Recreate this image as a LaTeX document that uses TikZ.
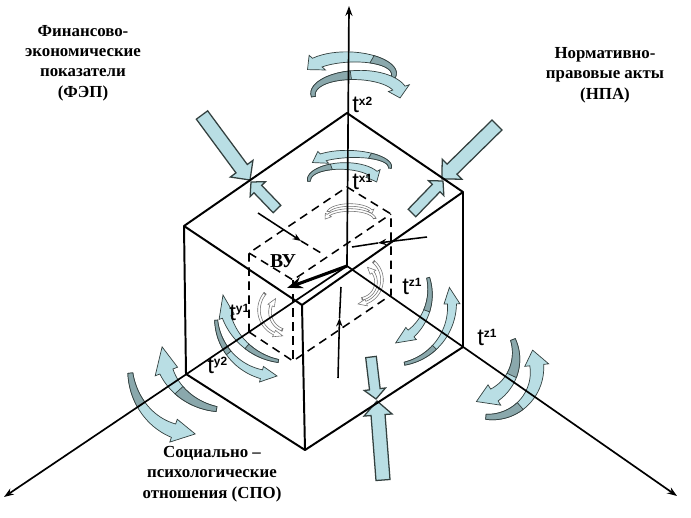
\documentclass[tikz,border=0pt]{standalone}
\usepackage{fontspec}
\setmainfont{Liberation Serif}
\setsansfont{Liberation Sans}
\usepackage{tikz}
\usetikzlibrary{arrows.meta,calc}
\definecolor{ribbonL}{HTML}{B9DEE4}
\definecolor{ribbonD}{HTML}{8AA8AC}
\definecolor{outln}{HTML}{33403F}
\newcommand{\rt}{2}
\newcommand{\rw}{5}
\newcommand{\rh}{9}
\newcommand{\tlab}[1]{t\raisebox{5.4pt}{\fontsize{8.5}{8.5}\selectfont\bfseries #1}}
\newcommand{\ribbon}[7]{%
  \def\wf{(\rt+(\rw-\rt)*(\x-(#4))/((#6)-(#4)))}%
  \pgfmathsetmacro\rxh{#2+\rh}\pgfmathsetmacro\ryh{#3+\rh}%
  \pgfmathsetmacro\rxl{#2-\rh}\pgfmathsetmacro\ryl{#3-\rh}%
  \begin{scope}[shift={(#1)}]
    \filldraw[rlight] plot[domain=#4:#6, samples=24] ({(#2+\wf)*cos(\x)}, {(#3+\wf)*sin(\x)})
      -- (xyz polar cs:angle=#6,x radius=\rxh,y radius=\ryh)
      -- (xyz polar cs:angle=#7,x radius=#2,y radius=#3)
      -- (xyz polar cs:angle=#6,x radius=\rxl,y radius=\ryl)
      -- plot[domain=#6:#4, samples=24] ({(#2-\wf)*cos(\x)}, {(#3-\wf)*sin(\x)}) -- cycle;
    \filldraw[rdark] plot[domain=#4:#5, samples=12] ({(#2+\wf)*cos(\x)}, {(#3+\wf)*sin(\x)})
      -- plot[domain=#5:#4, samples=12] ({(#2-\wf)*cos(\x)}, {(#3-\wf)*sin(\x)}) -- cycle;
  \end{scope}}
\newcommand{\blockarr}[4]{%
  \coordinate (hb) at ($(#2)!#4!(#1)$);
  \filldraw[blockarrow] ($(#1)!#3!90:(#2)$) -- ($(hb)!#3!90:(#2)$) -- ($(hb)!2*#3!90:(#2)$) -- (#2)
    -- ($(hb)!2*#3!-90:(#2)$) -- ($(hb)!#3!-90:(#2)$) -- ($(#1)!#3!-90:(#2)$) -- cycle;}
\tikzset{
  cubeedge/.style={line width=1.4pt, line join=round},
  hiddenedge/.style={line width=1.1pt, dash pattern=on 6pt off 4pt},
  axisline/.style={line width=1.2pt, -{Stealth[length=7pt, width=5pt]}},
  rlight/.style={fill=ribbonL, draw=outln, line width=0.5pt},
  rdark/.style={fill=ribbonD, draw=outln, line width=0.5pt},
  blockarrow/.style={fill=ribbonL, draw=outln, line width=0.9pt, line join=miter},
  pointer/.style={line width=1.1pt, -{Stealth[length=6pt, width=4.5pt]}},
  vuarrow/.style={line width=2.2pt, -{Stealth[length=11pt, width=8pt]}},
  factor/.style={font=\fontsize{12}{14.5}\selectfont\bfseries, align=center},
  tname/.style={font=\fontsize{17}{17}\selectfont\sffamily, anchor=base west, inner sep=0pt},
}
\begin{document}
\begin{tikzpicture}[x=0.025cm, y=-0.025cm]
  \useasboundingbox (0,0) rectangle (691,518);
  \coordinate (O) at (347,266);
  \coordinate (TB) at (347,113); \coordinate (TL) at (184,226);
  \coordinate (TR) at (463,192); \coordinate (TF) at (302,305);
  \coordinate (BL) at (186,374); \coordinate (BF) at (305,450); \coordinate (BR) at (463,347);
  \coordinate (iTB) at (347,187); \coordinate (iTL) at (249,253);
  \coordinate (iTR) at (391,214); \coordinate (iTF) at (293,280);
  \coordinate (iBL) at (249,332); \coordinate (iBF) at (293,361); \coordinate (iBR) at (391,295);
  \coordinate (xtip) at (349,6); \coordinate (ytip) at (4,497); \coordinate (ztip) at (677,496);

  \begin{scope}
    \renewcommand{\rt}{2}\renewcommand{\rw}{6.5}\renewcommand{\rh}{11}
    \ribbon{350,74}{44}{17}{15}{-60}{-138}{-165}
    \ribbon{357,94}{44}{19}{172}{262}{342}{372}
  \end{scope}
  \begin{scope}
    \renewcommand{\rt}{1.5}\renewcommand{\rw}{4.5}\renewcommand{\rh}{8}
    \ribbon{350,167}{40}{13}{5}{-60}{-132}{-160}
    \ribbon{343,180}{34}{14}{175}{250}{332}{368}
    \ribbon{276,316}{60}{60}{176}{142}{104}{89}
    \ribbon{290,295}{67}{67}{100}{130}{161}{180}
    \ribbon{375,292}{55}{55}{-15}{20}{49}{68}
    \ribbon{392,305}{60}{60}{78}{45}{-1}{-17}
  \end{scope}
  \begin{scope}
    \renewcommand{\rt}{2.5}\renewcommand{\rw}{7}\renewcommand{\rh}{12}
    \ribbon{193,366}{63}{68}{174}{145}{108}{88}
    \ribbon{228,350}{66}{60}{100}{138}{159}{183}
    \ribbon{470,356}{46}{46}{-21}{25}{58}{82}
    \ribbon{490,370}{47}{47}{95}{50}{-6}{-25}
  \end{scope}
  \begin{scope}[rlight/.style={fill=white, draw=black!55, line width=0.4pt}, rdark/.style={rlight}]
    \renewcommand{\rt}{1.3}\renewcommand{\rw}{1.3}\renewcommand{\rh}{3.5}
    \ribbon{350,213}{22}{8}{190}{192}{340}{362}
    \ribbon{350,220}{25}{10}{-8}{-10}{-150}{-175}
    \ribbon{285,310}{26}{26}{220}{218}{115}{95}
    \ribbon{289,312}{19}{19}{110}{112}{200}{225}
    \ribbon{358,280}{24}{24}{-50}{-48}{70}{90}
    \ribbon{359,282}{17}{17}{80}{78}{-35}{-60}
  \end{scope}

  \blockarr{202,115}{250,180}{5pt}{10pt}
  \blockarr{277,209}{251,182}{3.8pt}{7pt}
  \blockarr{497,125}{442,179}{5pt}{10pt}
  \blockarr{412,213}{443,181}{3.8pt}{7pt}
  \blockarr{383,480}{377,401}{5pt}{10pt}
  \blockarr{371,357}{376,399}{3.8pt}{7pt}

  \draw[hiddenedge] (iBL) -- (iTL) -- (iTB) -- (iTR) -- (iBR) -- (iBF) -- (iBL);
  \draw[hiddenedge] (iTL) -- (iTF) -- (iTR);
  \draw[hiddenedge] (iTF) -- (iBF);
  \draw[cubeedge] (BL) -- (TL) -- (TB) -- (TR) -- (BR) -- (BF) -- cycle;
  \draw[cubeedge] (TL) -- (TF) -- (TR);
  \draw[cubeedge] (TF) -- (BF);
  \draw[axisline] (O) -- (xtip);
  \draw[axisline] (O) -- (ytip);
  \draw[axisline] (O) -- (ztip);

  \coordinate (pa1) at (258,213); \coordinate (pa2) at (301,241); \coordinate (pa3) at (321,253);
  \coordinate (pb1) at (427,237); \coordinate (pb2) at (378,243); \coordinate (pb3) at (352,247);
  \coordinate (pc1) at (338,378); \coordinate (pc2) at (339.5,318); \coordinate (pc3) at (341,287);
  \coordinate (vuend) at (287,288);
  \draw[pointer] (pa1) -- (pa2); \draw[hiddenedge] (pa2) -- (pa3);
  \draw[pointer] (pb1) -- (pb2); \draw[line width=1.1pt] (pb2) -- (pb3);
  \draw[pointer] (pc1) -- (pc2); \draw[line width=1.1pt] (pc2) -- (pc3);
  \draw[vuarrow] (O) -- (vuend);

  \node[factor] (fep) at (83,63) {Финансово-\\экономические\\показатели\\(ФЭП)};
  \node[factor] (npa) at (605,75) {Нормативно-\\правовые акты\\(НПА)};
  \node[factor] (spo) at (212,474) {Социально –\\психологические\\отношения (СПО)};
  \node[font=\fontsize{14}{14}\selectfont\bfseries] (vu) at (283,261) {ВУ};
  \node[tname] (tx2) at (352,113) {\tlab{x2}};
  \node[tname] (tx1) at (352,190) {\tlab{x1}};
  \node[tname] (tz1) at (402,294) {\tlab{z1}};
  \node[tname] (tz2) at (477,345) {\tlab{z1}};
  \node[tname] (ty1) at (229,320) {\tlab{y1}};
  \node[tname] (ty2) at (207,373) {\tlab{y2}};
\end{tikzpicture}
\end{document}
